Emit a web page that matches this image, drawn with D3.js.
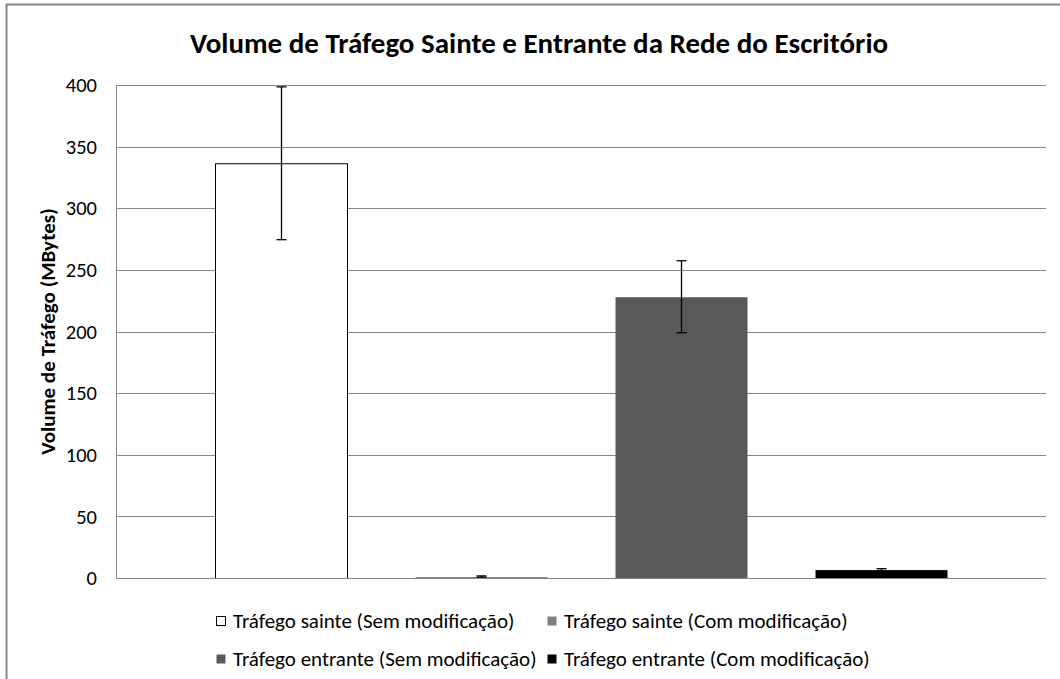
<!DOCTYPE html>
<html>
<head>
<meta charset="utf-8">
<style>
  body { margin: 0; background: #fff; }
  text { font-family: Carlito, Lato, "Open Sans", sans-serif; }
</style>
</head>
<body>
<script src="https://cdn.jsdelivr.net/npm/d3@7"></script>
<script>

// series (one category, four bars) and their values
var series = ["Tráfego sainte (Sem modificação)", "Tráfego sainte (Com modificação)",
              "Tráfego entrante (Sem modificação)", "Tráfego entrante (Com modificação)"];
var values = [336.5, 1.2, 228.2, 6.8];
var errors = [62, 0.5, 29.2, 0.8];
var colors = ["#ffffff", "#808080", "#595959", "#000000"];
var yTicks = [0, 50, 100, 150, 200, 250, 300, 350, 400];

var W = 1060, H = 679;
var plot = {left: 116, right: 1046, top: 85, bottom: 578};

var svg = d3.select("body").append("svg")
    .attr("width", W)
    .attr("height", H);

// chart border (only left and top are inside the frame)
svg.append("rect")
    .attr("x", 6.5).attr("y", 4.5)
    .attr("width", W + 10).attr("height", H + 10)
    .attr("fill", "none")
    .attr("stroke", "#868686")
    .attr("stroke-width", 2);

var x = d3.scaleBand()
    .domain(series)
    .range([plot.left, plot.right])
    .paddingInner(0.34)
    .paddingOuter(0.495);

var y = d3.scaleLinear()
    .domain([0, 400])
    .range([plot.bottom, plot.top]);

// gridlines
svg.append("g")
  .selectAll("line")
  .data(yTicks)
  .join("line")
    .attr("x1", plot.left)
    .attr("x2", plot.right)
    .attr("y1", d => Math.round(y(d)) + 0.5)
    .attr("y2", d => Math.round(y(d)) + 0.5)
    .attr("stroke", "#868686")
    .attr("stroke-width", 1);

// y axis line
svg.append("line")
    .attr("x1", plot.left + 0.5).attr("x2", plot.left + 0.5)
    .attr("y1", plot.top).attr("y2", plot.bottom)
    .attr("stroke", "#868686");

// tick labels
svg.append("g")
  .selectAll("text")
  .data(yTicks)
  .join("text")
    .attr("x", 97)
    .attr("y", d => y(d))
    .attr("dy", "0.35em")
    .attr("text-anchor", "end")
    .attr("font-size", 20.5)
    .attr("fill", "#000")
    .text(d => d);

// bars
svg.append("g")
  .selectAll("rect")
  .data(series)
  .join("rect")
    .attr("x", d => x(d) + 0.5)
    .attr("y", (d, i) => y(values[i]) + 0.5)
    .attr("width", x.bandwidth())
    .attr("height", (d, i) => y(0) - y(values[i]))
    .attr("fill", (d, i) => colors[i])
    .attr("stroke", (d, i) => i == 0 ? "#000" : "none")
    .attr("stroke-width", 1);

// baseline redrawn over bars
svg.append("line")
    .attr("x1", plot.left).attr("x2", plot.right)
    .attr("y1", Math.round(y(0)) + 0.5).attr("y2", Math.round(y(0)) + 0.5)
    .attr("stroke", "#868686");

// error bars
var eb = svg.append("g").attr("stroke", "#000").attr("stroke-width", 1.3);
series.forEach(function(s, i) {
  var cx = Math.round(x(s) + x.bandwidth() / 2) + 0.5;
  var y1 = y(values[i] + errors[i]), y2 = y(values[i] - errors[i]);
  eb.append("line").attr("x1", cx).attr("x2", cx).attr("y1", y1).attr("y2", y2);
  eb.append("line").attr("x1", cx - 5).attr("x2", cx + 5).attr("y1", y1).attr("y2", y1);
  eb.append("line").attr("x1", cx - 5).attr("x2", cx + 5).attr("y1", y2).attr("y2", y2);
});

// title
svg.append("text")
    .attr("x", 539)
    .attr("y", 53)
    .attr("text-anchor", "middle")
    .attr("font-size", 29)
    .attr("font-weight", "bold")
    .attr("fill", "#000")
    .text("Volume de Tráfego Sainte e Entrante da Rede do Escritório");

// y axis title
svg.append("text")
    .attr("transform", "translate(55," + ((plot.top + plot.bottom) / 2) + ") rotate(-90)")
    .attr("text-anchor", "middle")
    .attr("font-size", 21)
    .attr("font-weight", "bold")
    .attr("fill", "#000")
    .text("Volume de Tráfego (MBytes)");

// legend, two rows of two
var legX = [216, 547], legY = [621, 659];
var leg = svg.append("g")
  .selectAll("g")
  .data(series)
  .join("g")
    .attr("transform", (d, i) => "translate(" + legX[i % 2] + "," + legY[Math.floor(i / 2)] + ")");

leg.append("rect")
    .attr("x", 0.5).attr("y", -4.5)
    .attr("width", 9).attr("height", 9)
    .attr("fill", (d, i) => colors[i])
    .attr("stroke", (d, i) => i == 0 ? "#000" : "none");

leg.append("text")
    .attr("x", 17)
    .attr("dy", "0.35em")
    .attr("font-size", 21)
    .attr("fill", "#000")
    .text(d => d);

</script>
</body>
</html>
